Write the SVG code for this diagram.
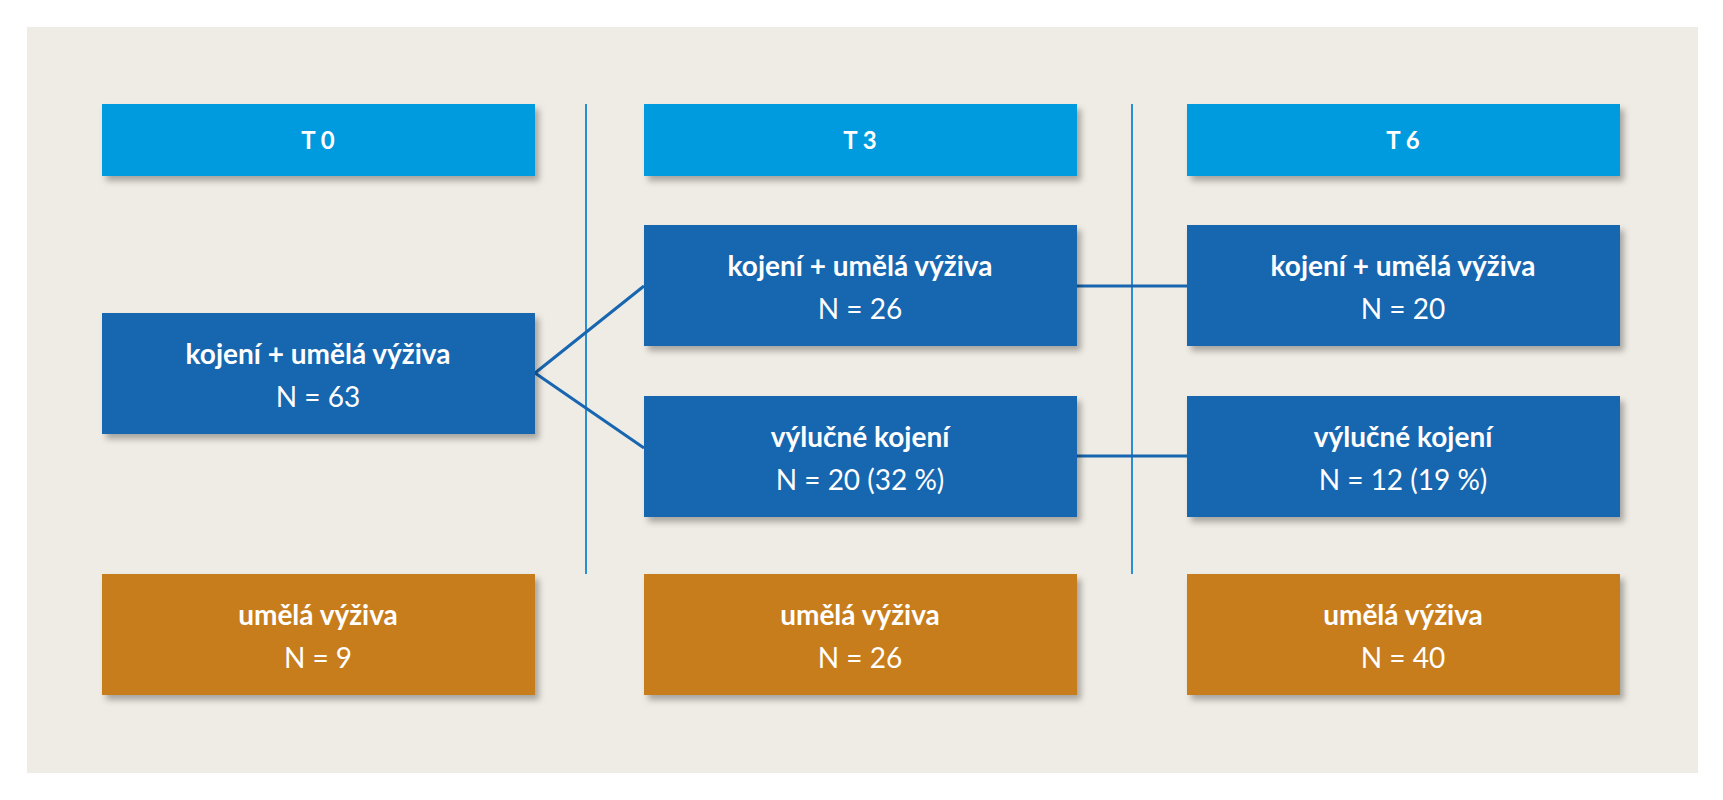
<svg xmlns="http://www.w3.org/2000/svg" width="1723" height="800" viewBox="0 0 1723 800">
<defs>
<filter id="sh" x="-10%" y="-10%" width="125%" height="130%"><feDropShadow dx="4" dy="5" stdDeviation="3" flood-color="#000" flood-opacity="0.3"/></filter>
<style>
.h{fill:#009bdf;filter:url(#sh)}
.b{fill:#1866b0;filter:url(#sh)}
.o{fill:#c87d1e;filter:url(#sh)}
text{font-family:Lato,"Open Sans",sans-serif;fill:#fff;text-anchor:middle;font-size:28px}
.t{font-weight:bold}
.hd{font-weight:bold;font-size:24px}
.c{stroke:#1866b0;stroke-width:3;fill:none}
.v{stroke:#2a8fd0;stroke-width:2}
</style>
</defs>
<rect x="0" y="0" width="1723" height="800" fill="#fff"/>
<rect x="27" y="27" width="1671" height="746" fill="#efece5"/>
<g id="dividers"><line class="v" x1="586" y1="104" x2="586" y2="574"/><line class="v" x1="1132" y1="104" x2="1132" y2="574"/></g>
<g id="connectors">
<path class="c" d="M535 373 L644 286 M535 373 L644 448 M1077 286 L1187 286 M1077 456 L1187 456"/>
</g>
<g id="h0"><rect class="h" x="102" y="104" width="433" height="72"/><text class="hd" x="318" y="149">T 0</text></g>
<g id="h3"><rect class="h" x="644" y="104" width="433" height="72"/><text class="hd" x="860" y="149">T 3</text></g>
<g id="h6"><rect class="h" x="1187" y="104" width="433" height="72"/><text class="hd" x="1403" y="149">T 6</text></g>
<g id="t0mix"><rect class="b" x="102" y="313" width="433" height="121"/><text class="t" x="318" y="364">kojení + umělá výživa</text><text x="318" y="407">N = 63</text></g>
<g id="t3mix"><rect class="b" x="644" y="225" width="433" height="121"/><text class="t" x="860" y="276">kojení + umělá výživa</text><text x="860" y="319">N = 26</text></g>
<g id="t6mix"><rect class="b" x="1187" y="225" width="433" height="121"/><text class="t" x="1403" y="276">kojení + umělá výživa</text><text x="1403" y="319">N = 20</text></g>
<g id="t3ex"><rect class="b" x="644" y="396" width="433" height="121"/><text class="t" x="860" y="447">výlučné kojení</text><text x="860" y="490">N = 20 (32 %)</text></g>
<g id="t6ex"><rect class="b" x="1187" y="396" width="433" height="121"/><text class="t" x="1403" y="447">výlučné kojení</text><text x="1403" y="490">N = 12 (19 %)</text></g>
<g id="t0f"><rect class="o" x="102" y="574" width="433" height="121"/><text class="t" x="318" y="625">umělá výživa</text><text x="318" y="668">N = 9</text></g>
<g id="t3f"><rect class="o" x="644" y="574" width="433" height="121"/><text class="t" x="860" y="625">umělá výživa</text><text x="860" y="668">N = 26</text></g>
<g id="t6f"><rect class="o" x="1187" y="574" width="433" height="121"/><text class="t" x="1403" y="625">umělá výživa</text><text x="1403" y="668">N = 40</text></g>
</svg>
